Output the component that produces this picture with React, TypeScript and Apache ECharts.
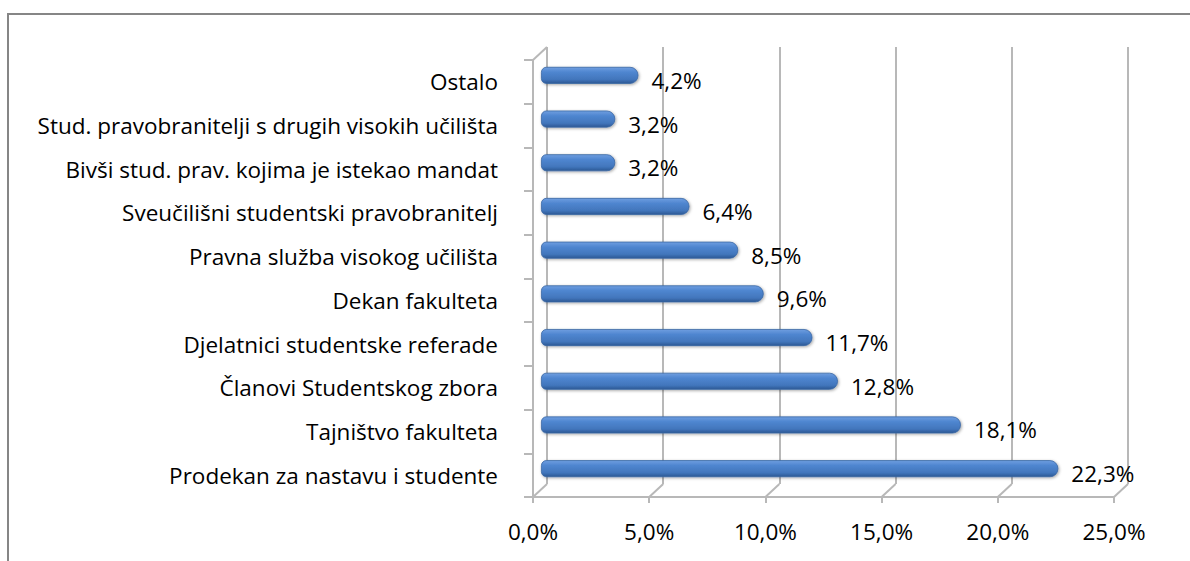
import React, { useEffect, useRef } from "react";
import * as echarts from "echarts";

const categories = [
  "Prodekan za nastavu i studente",
  "Tajništvo fakulteta",
  "Članovi Studentskog zbora",
  "Djelatnici studentske referade",
  "Dekan fakulteta",
  "Pravna služba visokog učilišta",
  "Sveučilišni studentski pravobranitelj",
  "Bivši stud. prav. kojima je istekao mandat",
  "Stud. pravobranitelji s drugih visokih učilišta",
  "Ostalo",
];
const values = [22.3, 18.1, 12.8, 11.7, 9.6, 8.5, 6.4, 3.2, 3.2, 4.2];
const xTicks = [0, 5, 10, 15, 20, 25];

const FONT = "Open Sans";
const FS = 22.5;
const GRID_COLOR = "#b8b8b8";
const DX = 14;
const DY = -13;

const fmt = (v: number) => v.toFixed(1).replace(".", ",") + "%";

export default function App() {
  const ref = useRef<HTMLDivElement>(null);
  useEffect(() => {
    if (!ref.current) return;
    const chart = echarts.init(ref.current, undefined, { renderer: "svg" });
    const front = { left: 533, right: 76, top: 60, bottom: 64 };
    const option: any = {
      animation: false,
      backgroundColor: "#ffffff",
      graphic: [
        {
          type: "rect",
          shape: { x: 8, y: 14, width: 1300, height: 700 },
          style: { fill: "none", stroke: "#868686", lineWidth: 2 },
          silent: true,
          z: 100,
        },
      ],
      grid: [
        { ...front, containLabel: false },
        { left: front.left + DX, right: front.right - DX, top: front.top + DY, bottom: front.bottom - DY },
        { left: front.left + DX / 2 + 1, right: front.right - DX / 2, top: front.top + DY / 2, bottom: front.bottom - DY / 2 },
      ],
      xAxis: [
        {
          gridIndex: 0,
          type: "value",
          min: 0,
          max: 25,
          interval: 5,
          axisLine: { show: true, lineStyle: { color: GRID_COLOR, width: 2 } },
          axisTick: { show: true, length: 6, lineStyle: { color: GRID_COLOR, width: 2 } },
          splitLine: { show: false },
          axisLabel: {
            margin: 23,
            color: "#000",
            fontFamily: FONT,
            fontSize: FS,
            formatter: (v: number) => fmt(v),
          },
        },
        {
          gridIndex: 1,
          type: "value",
          min: 0,
          max: 25,
          interval: 5,
          axisLine: { show: false },
          axisTick: { show: false },
          axisLabel: { show: false },
          splitLine: { show: true, lineStyle: { color: GRID_COLOR, width: 2 } },
        },
        {
          gridIndex: 2,
          type: "value",
          min: 0,
          max: 25,
          interval: 5,
          show: false,
        },
      ],
      yAxis: [
        {
          gridIndex: 0,
          type: "category",
          data: categories,
          axisLine: { show: true, lineStyle: { color: GRID_COLOR, width: 2 } },
          axisTick: { show: true, length: 9, lineStyle: { color: GRID_COLOR, width: 2 } },
          axisLabel: { margin: 35, color: "#000", fontFamily: FONT, fontSize: FS },
        },
        { gridIndex: 1, type: "category", data: categories, show: false },
        { gridIndex: 2, type: "category", data: categories, show: false },
      ],
      series: [
        {
          type: "custom",
          xAxisIndex: 0,
          yAxisIndex: 0,
          data: xTicks.map((t) => [t, 0]),
          silent: true,
          renderItem: (params: any, api: any) => {
            const cs = params.coordSys;
            const x = api.coord([api.value(0), 0])[0];
            const yb = cs.y + cs.height;
            const children: any[] = [
              {
                type: "line",
                shape: { x1: x, y1: yb, x2: x + DX, y2: yb + DY },
                style: { stroke: GRID_COLOR, lineWidth: 2 },
              },
            ];
            if (params.dataIndex === 0) {
              children.push({
                type: "line",
                shape: { x1: cs.x, y1: cs.y, x2: cs.x + DX, y2: cs.y + DY },
                style: { stroke: GRID_COLOR, lineWidth: 2 },
              });
            }
            return { type: "group", children };
          },
          z: 1,
        },
        {
          type: "bar",
          xAxisIndex: 2,
          yAxisIndex: 2,
          data: values,
          barWidth: 17,
          z: 5,
          itemStyle: {
            borderRadius: [5, 8, 8, 5],
            color: new echarts.graphic.LinearGradient(0, 0, 0, 1, [
              { offset: 0, color: "#6f9ee0" },
              { offset: 0.3, color: "#4f86d0" },
              { offset: 0.75, color: "#4276bc" },
              { offset: 1, color: "#2c5894" },
            ]),
            borderColor: "#3a67a3",
            borderWidth: 0.8,
            shadowColor: "rgba(0,0,0,0.35)",
            shadowBlur: 3,
            shadowOffsetX: 1,
            shadowOffsetY: 1,
          },
          label: {
            show: true,
            position: "right",
            distance: 13,
            offset: [0, 5],
            color: "#000",
            fontFamily: FONT,
            fontSize: FS,
            formatter: (p: any) => fmt(p.value),
          },
        },
      ],
    };
    chart.setOption(option);
    return () => chart.dispose();
  }, []);
  return (
    <div
      ref={ref}
      style={{ position: "absolute", left: 0, top: 0, width: 1190, height: 561 }}
    />
  );
}
